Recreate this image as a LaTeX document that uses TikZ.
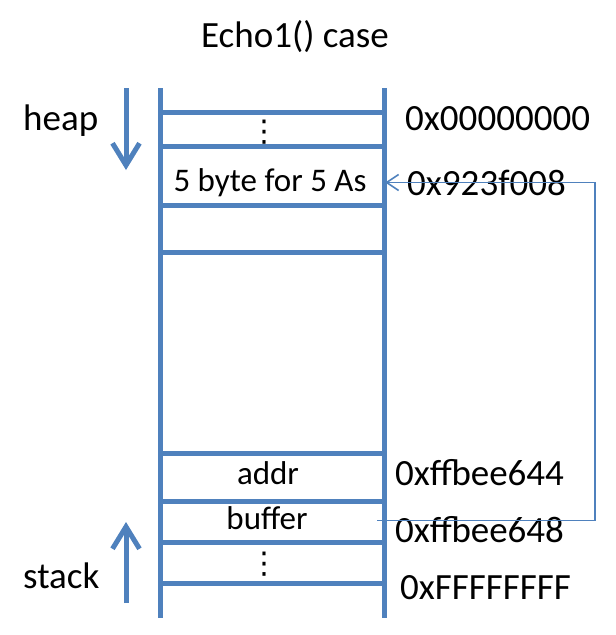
\documentclass[tikz,border=0pt]{standalone}
\usepackage{fontspec}
\setmainfont{Carlito}
\newfontfamily\dotsfont{DejaVu Sans}
\usetikzlibrary{arrows.meta,positioning}
\definecolor{memblue}{HTML}{4F81BD}
\tikzset{
  wall/.style={memblue, line width=5pt},
  growth/.style={memblue, line width=5pt, -{Straight Barb[length=22pt, width=27pt]}},
  pointer/.style={memblue, line width=1.6pt, -{Straight Barb[length=12pt, width=16pt]}},
  cell/.style={anchor=base, minimum width=224pt, inner sep=0pt, text height=24pt, text depth=7pt, font=\fontsize{33}{40}\selectfont},
  gap/.style={inner sep=0pt, font=\dotsfont\fontsize{30}{36}\selectfont},
  label/.style={anchor=base west, inner sep=0pt, font=\fontsize{37}{44}\selectfont}
}

\begin{document}
\begin{tikzpicture}[x=1pt, y=-1pt]
    \useasboundingbox (0,0) rectangle (616,635);

    % Titulo
    \node[anchor=base, inner sep=0pt, font=\fontsize{37}{44}\selectfont] (title) at (295,47) {Echo1() case};

    % Paredes de la memoria
    \draw[wall] (160,88) -- (160,618);
    \draw[wall] (384,88) -- (384,618);
    \foreach \y in {112, 146.5, 205.5, 252.5, 453.3, 501, 542.3, 583.3} {
        \draw[wall] (160,\y) -- (384,\y);
    }

    % Sentido de crecimiento
    \node[label] (heap) at (23,130) {heap};
    \node[label] (stack) at (23,588) {stack};
    \draw[growth] (126,88) -- (126,170);
    \draw[growth] (126,603) -- (126,522);

    % Celdas
    \node[gap] (gaptop) at (264,132) {⋮};
    \node[cell] (bytes) at (270,191) {5 byte for 5 As};
    \node[cell] (addr) at (268,484) {addr};
    \node[cell] (buffer) at (267,529) {buffer};
    \node[gap] (gapbot) at (264,564) {⋮};

    % Direcciones
    \node[label] (lowaddr) at (405,130) {0x00000000};
    \node[label] (heapaddr) at (407,195) {0x923f008};
    \node[label] (addraddr) at (395,485) {0xffbee644};
    \node[label] (bufaddr) at (395,542) {0xffbee648};
    \node[label] (highaddr) at (400,599) {0xFFFFFFFF};

    % Puntero de buffer al heap
    \draw[pointer] ([xshift=-2pt]buffer.east) -- ++(218,0) |- ([xshift=3pt]bytes.east);

\end{tikzpicture}
\end{document}
